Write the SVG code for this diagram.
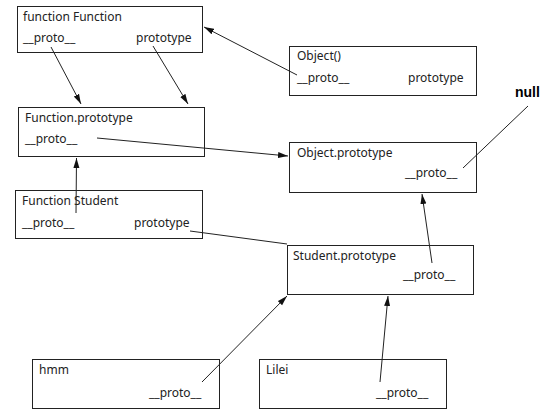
<svg xmlns="http://www.w3.org/2000/svg" width="554" height="418" viewBox="0 0 554 418">
<defs>
<marker id="ah" markerWidth="11" markerHeight="7" refX="10" refY="3.5" orient="auto" markerUnits="userSpaceOnUse">
<path d="M0,0.5 L10,3.5 L0,6.5 Z" fill="#111"/>
</marker>
<style>
rect{fill:#fff;stroke:#222;stroke-width:1}
text{font-family:"Noto Sans","Open Sans",sans-serif;font-size:12px;fill:#222}
.c line{stroke:#222;stroke-width:1}
.a{marker-end:url(#ah)}
.null{font-family:"Liberation Sans",Arial,sans-serif;font-weight:bold;font-size:14px;fill:#000}
</style>
</defs>
<rect width="554" height="418" style="fill:#fff;stroke:none"/>
<g id="functionFunction">
<rect x="17.5" y="6.5" width="185" height="46"/>
<text x="23" y="21">function Function</text>
<text x="23" y="42">__proto__</text>
<text x="136" y="42">prototype</text>
</g>
<g id="objectCtor">
<rect x="289.5" y="46.5" width="187" height="49"/>
<text x="297" y="60">Object()</text>
<text x="297" y="82">__proto__</text>
<text x="408" y="82">prototype</text>
</g>
<g id="functionPrototype">
<rect x="18.5" y="107.5" width="186" height="49"/>
<text x="25" y="122">Function.prototype</text>
<text x="25" y="143">__proto__</text>
</g>
<g id="objectPrototype">
<rect x="289.5" y="142.5" width="187" height="50"/>
<text x="297" y="157">Object.prototype</text>
<text x="405" y="177">__proto__</text>
</g>
<g id="null">
<text class="null" x="515" y="97">null</text>
</g>
<g id="functionStudent">
<rect x="15.5" y="190.5" width="187" height="48"/>
<text x="22" y="205">Function Student</text>
<text x="22" y="227">__proto__</text>
<text x="134" y="227">prototype</text>
</g>
<g id="studentPrototype">
<rect x="287.5" y="245.5" width="186" height="49"/>
<text x="293" y="260">Student.prototype</text>
<text x="403" y="279">__proto__</text>
</g>
<g id="hmm">
<rect x="32.5" y="359.5" width="187" height="49"/>
<text x="39" y="374">hmm</text>
<text x="149" y="397">__proto__</text>
</g>
<g id="lilei">
<rect x="259.5" y="359.5" width="187" height="49"/>
<text x="266" y="374">Lilei</text>
<text x="376" y="397">__proto__</text>
</g>
<g id="connectors" class="c">
<line class="a" x1="51" y1="47" x2="81" y2="104"/>
<line class="a" x1="153" y1="46" x2="188" y2="104"/>
<line class="a" x1="297" y1="75" x2="204" y2="27"/>
<line class="a" x1="97" y1="138" x2="288" y2="156"/>
<line x1="528" y1="106" x2="463" y2="168"/>
<line class="a" x1="76" y1="213" x2="76.5" y2="158"/>
<line x1="190" y1="231" x2="287" y2="244"/>
<line class="a" x1="432" y1="263" x2="422" y2="194"/>
<line class="a" x1="202" y1="382" x2="287" y2="296"/>
<line class="a" x1="380" y1="382" x2="388" y2="296"/>
</g>
</svg>
